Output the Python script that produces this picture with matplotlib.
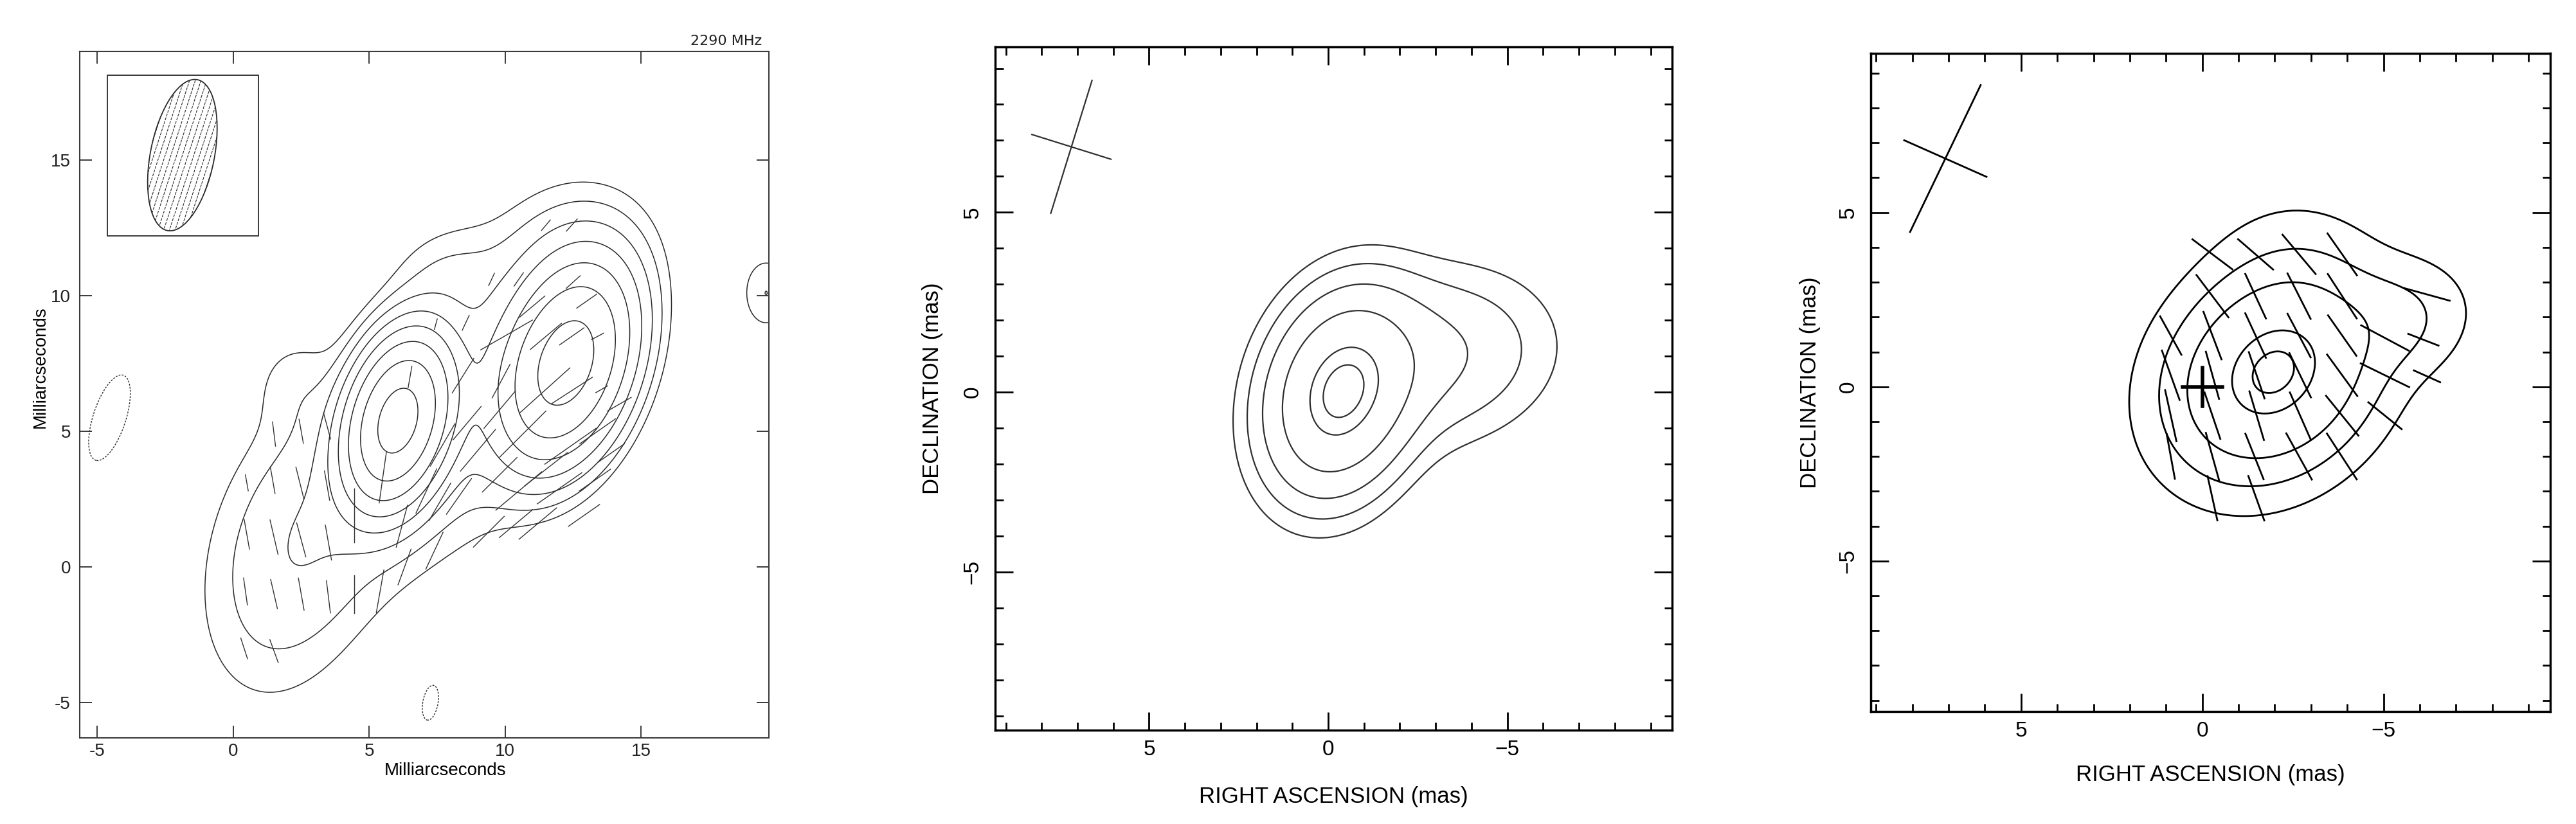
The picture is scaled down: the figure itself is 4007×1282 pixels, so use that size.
import numpy as np
import matplotlib.pyplot as plt
from matplotlib.patches import Ellipse, Rectangle

plt.rcParams['font.family'] = ['Liberation Sans', 'DejaVu Sans']

# ---------------- panel 1 : 2290 MHz total intensity + polarisation ----------------
p1_ticks = [-5, 0, 5, 10, 15]
p1_ticklabels = ['-5', '0', '5', '10', '15']
p1_title = '2290 MHz'

# gaussian components: x, y, peak, sigma major, sigma minor, angle of major axis (deg from north toward +x)
p1_cx = [6.05, 12.25, 8.3, 2.2, 7.8, 2.2, 12.3, -4.55, 7.25, 19.6]
p1_cy = [5.4, 7.5, 6.0, 0.5, 10.8, 6.8, 11.3, 5.5, -5.0, 10.1]
p1_amp = [1.0, 0.52, 0.03, 0.02, 0.008, 0.006, 0.014, -0.012, -0.012, 0.012]
p1_smaj = [1.6, 1.95, 4.3, 3.3, 1.3, 1.2, 1.7, 1.4, 0.56, 0.93]
p1_smin = [0.9, 1.15, 2.2, 1.9, 1.1, 1.0, 1.5, 0.51, 0.24, 0.6]
p1_pa = [15, 18, 40, 15, 60, 0, 30, 18, 10, 0]
p1_levels = [0.006, 0.012, 0.024, 0.048, 0.096, 0.19, 0.385, 0.77]
p1_neg_levels = [-0.006]

# polarisation vectors: centre x, centre y, angle from +x (deg), length (mas)
p1_vx = [1.5, 2.5, 3.45, 0.5, 1.45, 2.45, 3.45, 0.5, 1.5, 2.5, 3.5, 0.45, 1.5, 2.5, 3.5, 0.4, 1.5,
         4.45, 4.45, 5.5, 5.4, 6.5, 7.45, 8.55, 8.45,
         11.5, 12.45, 9.5, 10.5, 12.5, 10.05, 11.5, 12.45, 13.4, 9.85, 11.45, 12.45, 13.55,
         10.65, 12.4, 9.0, 10.5, 12.0, 13.3, 8.3, 9.4, 7.4, 6.3,
         11.2, 13.4, 9.8, 7.6, 13.9,
         11.5, 9.8, 12.9, 10.4, 8.6, 14.2, 13.0, 11.0, 6.2, 7.1, 7.7]
p1_vy = [4.9, 5.0, 5.2, 3.1, 3.2, 3.1, 3.0, 1.2, 1.1, 1.0, 0.9, -0.9, -1.0, -1.0, -1.1, -3.0, -3.1,
         1.9, -1.0, 3.3, -0.9, 7.0, 8.95, 9.0, 7.05,
         12.6, 12.6, 10.6, 10.6, 10.5, 8.55, 8.5, 8.5, 8.5, 6.85, 6.5, 6.5, 6.55,
         4.9, 4.45, 4.3, 2.8, 2.9, 3.2, 2.6, 1.3, 0.6, 0.0,
         1.6, 5.0, 5.8, 2.4, 4.2,
         3.6, 3.4, 1.9, 1.6, 5.3, 6.0, 9.8, 9.6, 1.5, 2.8, 4.5]
p1_vang = [97, 100, 105, 100, 100, 104, 100, 100, 103, 105, 100, 98, 103, 100, 97, 108, 110,
           90, 90, 82, 80, 80, 75, 65, 58,
           50, 48, 65, 55, 42, 30, 40, 35, 28, 62, 42, 33, 30,
           45, 35, 50, 40, 35, 35, 55, 45, 65, 70,
           40, 35, 50, 60, 35,
           38, 45, 35, 40, 50, 30, 35, 40, 75, 65, 60]
p1_vlen = [0.9, 0.9, 1.0, 0.6, 1.0, 1.2, 1.1, 1.1, 1.3, 1.3, 1.3, 1.0, 1.1, 1.2, 1.2, 0.8, 0.9,
           2.0, 1.4, 1.9, 1.6, 0.8, 0.4, 0.6, 1.5,
           0.5, 0.6, 0.5, 0.6, 0.7, 2.2, 1.5, 1.1, 0.5, 1.4, 2.5, 1.8, 0.5,
           2.4, 2.3, 2.0, 2.2, 2.0, 1.4, 1.6, 1.6, 1.5, 1.4,
           1.8, 1.6, 1.8, 1.6, 1.2,
           2.0, 1.8, 1.4, 1.6, 1.6, 1.0, 0.9, 1.2, 1.6, 1.8, 1.8]

# restoring beam in the inset box
p1_beam_x, p1_beam_y = -1.87, 15.18
p1_beam_minor, p1_beam_major, p1_beam_tilt = 2.35, 5.67, -11.2
p1_box = (-4.63, 12.2, 5.56, 5.92)

# ---------------- panel 2 : total intensity ----------------
p23_ticks = [5, 0, -5]
p23_ticklabels = ['5', '0', '\u22125']
p2_cx = [-0.35, -3.0]
p2_cy = [-0.05, 1.0]
p2_amp = [1.0, 0.19]
p2_smaj = [1.6, 1.9]
p2_smin = [1.12, 1.4]
p2_pa = [17, 80]
p2_levels = [0.038, 0.085, 0.18, 0.39, 0.79, 0.955]
p2_beam = (7.17, 6.82, 3.87, 2.31, 17.3)   # x, y, major, minor, tilt (deg, screen)

# ---------------- panel 3 : intensity + polarisation ----------------
p3_cx = [-1.95, -5.3, -2.5]
p3_cy = [0.4, 1.9, 3.2]
p3_amp = [1.0, 0.11, 0.04]
p3_smaj = [1.6, 1.1, 1.3]
p3_smin = [1.3, 0.9, 1.3]
p3_pa = [40, 70, 0]
p3_levels = [0.0215, 0.09, 0.256, 0.734, 0.928]
p3_beam = (7.09, 6.55, 4.64, 2.5, 24.8)

# vectors: RA, Dec, screen angle (deg from right), length (mas)
p3_vx = [-0.28, -1.47, -2.67, -3.86,
         -0.28, -1.47, -2.67, -3.86, -6.2,
         0.87, -0.28, -1.47, -2.67, -3.86, -5.04, -6.1,
         0.87, -0.28, -1.5, -2.7, -3.86, -5.04, -6.2,
         0.87, -0.28, -1.5, -2.7, -3.86, -5.04,
         0.87, -0.28, -1.44, -2.67, -3.85,
         -0.28, -1.49]
p3_vy = [3.8, 3.8, 3.8, 3.8,
         2.6, 2.6, 2.6, 2.6, 2.65,
         1.47, 1.47, 1.47, 1.47, 1.47, 1.4, 1.35,
         0.33, 0.33, 0.33, 0.33, 0.33, 0.33, 0.3,
         -0.83, -0.83, -0.83, -0.83, -0.83, -0.83,
         -2.0, -2.0, -2.0, -2.0, -2.0,
         -3.2, -3.2]
p3_vang = [-38, -42, -51, -56,
           -54, -66, -64, -58, -16,
           -62, -70, -66, -63, -56, -29, -22,
           -71, -75, -72, -65, -55, -27, -25,
           -78, -72, -74, -67, -52, -40,
           -80, -75, -69, -62, -58,
           -78, -71]
p3_vlen = [1.4, 1.3, 1.45, 1.45,
           1.5, 1.4, 1.45, 1.5, 1.3,
           1.25, 1.45, 1.4, 1.4, 1.4, 1.5, 0.9,
           1.5, 1.4, 1.4, 1.4, 1.45, 1.5, 0.8,
           1.5, 1.4, 1.45, 1.45, 1.45, 1.2,
           1.3, 1.4, 1.4, 1.5, 1.55,
           1.3, 1.35]
p3_cross = (0.0, 0.0, 0.55)


def field(X, Y, cx, cy, amp, smaj, smin, pa, flip):
    Z = np.zeros_like(X)
    s = -1.0 if flip else 1.0
    for x0, y0, a, s1, s2, p in zip(cx, cy, amp, smaj, smin, pa):
        du = s * (X - x0)
        dv = Y - y0
        t = np.radians(p)
        along = du * np.sin(t) + dv * np.cos(t)
        across = du * np.cos(t) - dv * np.sin(t)
        Z += a * np.exp(-0.5 * ((along / s1) ** 2 + (across / s2) ** 2))
    return Z


def draw_vectors(ax, vx, vy, vang, vlen, flip, **kw):
    s = -1.0 if flip else 1.0
    for x0, y0, a, l in zip(vx, vy, vang, vlen):
        dx = 0.5 * l * np.cos(np.radians(a))
        dy = 0.5 * l * np.sin(np.radians(a))
        ax.plot([x0 - s * dx, x0 + s * dx], [y0 - dy, y0 + dy], **kw)


def draw_beam_cross(ax, beam, **kw):
    x0, y0, maj, mnr, tilt = beam
    t = np.radians(tilt)
    dx, dy = 0.5 * maj * np.sin(t), 0.5 * maj * np.cos(t)
    ax.plot([x0 + dx, x0 - dx], [y0 - dy, y0 + dy], **kw)
    dx, dy = 0.5 * mnr * np.cos(t), 0.5 * mnr * np.sin(t)
    ax.plot([x0 + dx, x0 - dx], [y0 + dy, y0 - dy], **kw)


fig = plt.figure(figsize=(40.07, 12.82), dpi=100)

# ================= panel 1 =================
ax1 = fig.add_axes([0.0309, 0.1045, 0.2676, 0.833])
xlim1, ylim1 = (-5.65, 19.7), (-6.3, 19.0)
X, Y = np.meshgrid(np.linspace(*xlim1, 500), np.linspace(*ylim1, 500))
Z1 = field(X, Y, p1_cx, p1_cy, p1_amp, p1_smaj, p1_smin, p1_pa, False)
c1 = '#2a2a2a'
ax1.contour(X, Y, Z1, levels=p1_levels, colors=c1, linewidths=1.1)
ax1.contour(X, Y, Z1, levels=p1_neg_levels, colors=c1, linewidths=1.0,
            linestyles=[(0, (2.0, 1.5))])
draw_vectors(ax1, p1_vx, p1_vy, p1_vang, p1_vlen, False, color='#333333', lw=1.0)

bx, by, bw, bh = p1_box
ax1.add_patch(Rectangle((bx, by), bw, bh, fill=False, ec=c1, lw=1.3))
beam = Ellipse((p1_beam_x, p1_beam_y), p1_beam_minor, p1_beam_major, angle=p1_beam_tilt,
               fill=False, ec=c1, lw=1.3)
ax1.add_patch(beam)
ht = np.radians(18)
for off in np.arange(-1.6, 1.7, 0.2):
    cx0 = p1_beam_x + off / np.cos(ht)
    ln, = ax1.plot([cx0 - 4 * np.sin(ht), cx0 + 4 * np.sin(ht)],
                   [p1_beam_y - 4 * np.cos(ht), p1_beam_y + 4 * np.cos(ht)],
                   color=c1, lw=0.8, ls=(0, (4, 1.5)))
    ln.set_clip_path(beam)

ax1.set_xlim(*xlim1)
ax1.set_ylim(*ylim1)
ax1.set_xticks(p1_ticks)
ax1.set_xticklabels(p1_ticklabels)
ax1.set_yticks(p1_ticks)
ax1.set_yticklabels(p1_ticklabels)
ax1.tick_params(direction='in', length=14, width=1.3, color=c1, top=True, right=True,
                labelsize=20, labelcolor='#222222')
ax1.tick_params(axis='x', pad=6)
ax1.tick_params(axis='y', pad=10)
for sp in ax1.spines.values():
    sp.set_color('#3a3a3a')
    sp.set_linewidth(1.5)
for lab in ax1.get_xticklabels() + ax1.get_yticklabels():
    lab.set_family(['Liberation Sans Narrow', 'Liberation Sans', 'DejaVu Sans'])
ax1.set_xlabel('Milliarcseconds', fontsize=20, family=['Liberation Sans Narrow', 'Liberation Sans'])
ax1.set_ylabel('Milliarcseconds', fontsize=20, family=['Liberation Sans Narrow', 'Liberation Sans'])
ax1.xaxis.set_label_coords(0.53, -0.036)
ax1.yaxis.set_label_coords(-0.045, 0.54)
ax1.text(0.99, 1.006, p1_title, transform=ax1.transAxes, ha='right', va='bottom',
         fontsize=16, family='DejaVu Sans', color='#222222')


def style_map(ax, xlim, ylim):
    ax.set_xlim(*xlim)
    ax.set_ylim(*ylim)
    ax.set_xticks(p23_ticks)
    ax.set_xticklabels(p23_ticklabels)
    ax.set_yticks(p23_ticks)
    ax.set_yticklabels(p23_ticklabels, rotation=90, va='center')
    ax.set_xticks(np.arange(-9, 10), minor=True)
    ax.set_yticks(np.arange(-9, 10), minor=True)
    ax.tick_params(which='major', direction='in', length=20, width=2, top=True, right=True,
                   labelsize=24)
    ax.tick_params(which='minor', direction='in', length=9, width=2, top=True, right=True)
    ax.tick_params(axis='x', which='major', pad=11)
    ax.tick_params(axis='y', which='major', pad=14)
    for sp in ax.spines.values():
        sp.set_linewidth(2.5)
    ax.set_xlabel('RIGHT ASCENSION (mas)', fontsize=25)
    ax.set_ylabel('DECLINATION (mas)', fontsize=25)


# ================= panel 2 =================
ax2 = fig.add_axes([0.3863, 0.1139, 0.2628, 0.8292])
xlim2, ylim2 = (9.3, -9.6), (-9.4, 9.6)
X, Y = np.meshgrid(np.linspace(-10, 10, 500), np.linspace(-10, 10, 500))
Z2 = field(X, Y, p2_cx, p2_cy, p2_amp, p2_smaj, p2_smin, p2_pa, True)
ax2.contour(X, Y, Z2, levels=p2_levels, colors='#303030', linewidths=1.6)
draw_beam_cross(ax2, p2_beam, color='#303030', lw=1.6)
style_map(ax2, xlim2, ylim2)
ax2.xaxis.set_label_coords(0.5, -0.082)
ax2.yaxis.set_label_coords(-0.077, 0.5)

# ================= panel 3 =================
ax3 = fig.add_axes([0.7262, 0.1365, 0.2638, 0.7988])
xlim3, ylim3 = (9.15, -9.6), (-9.32, 9.57)
Z3 = field(X, Y, p3_cx, p3_cy, p3_amp, p3_smaj, p3_smin, p3_pa, True)
ax3.contour(X, Y, Z3, levels=p3_levels, colors='black', linewidths=2.0)
draw_vectors(ax3, p3_vx, p3_vy, p3_vang, p3_vlen, True, color='black', lw=2.0)
draw_beam_cross(ax3, p3_beam, color='black', lw=2.0)
cx, cy, cs = p3_cross
ax3.plot([cx + cs, cx - cs], [cy, cy], color='black', lw=4)
ax3.plot([cx, cx], [cy - cs, cy + cs], color='black', lw=4)
style_map(ax3, xlim3, ylim3)
ax3.xaxis.set_label_coords(0.5, -0.080)
ax3.yaxis.set_label_coords(-0.074, 0.5)

fig.savefig('out.png', dpi=100, facecolor='white')
